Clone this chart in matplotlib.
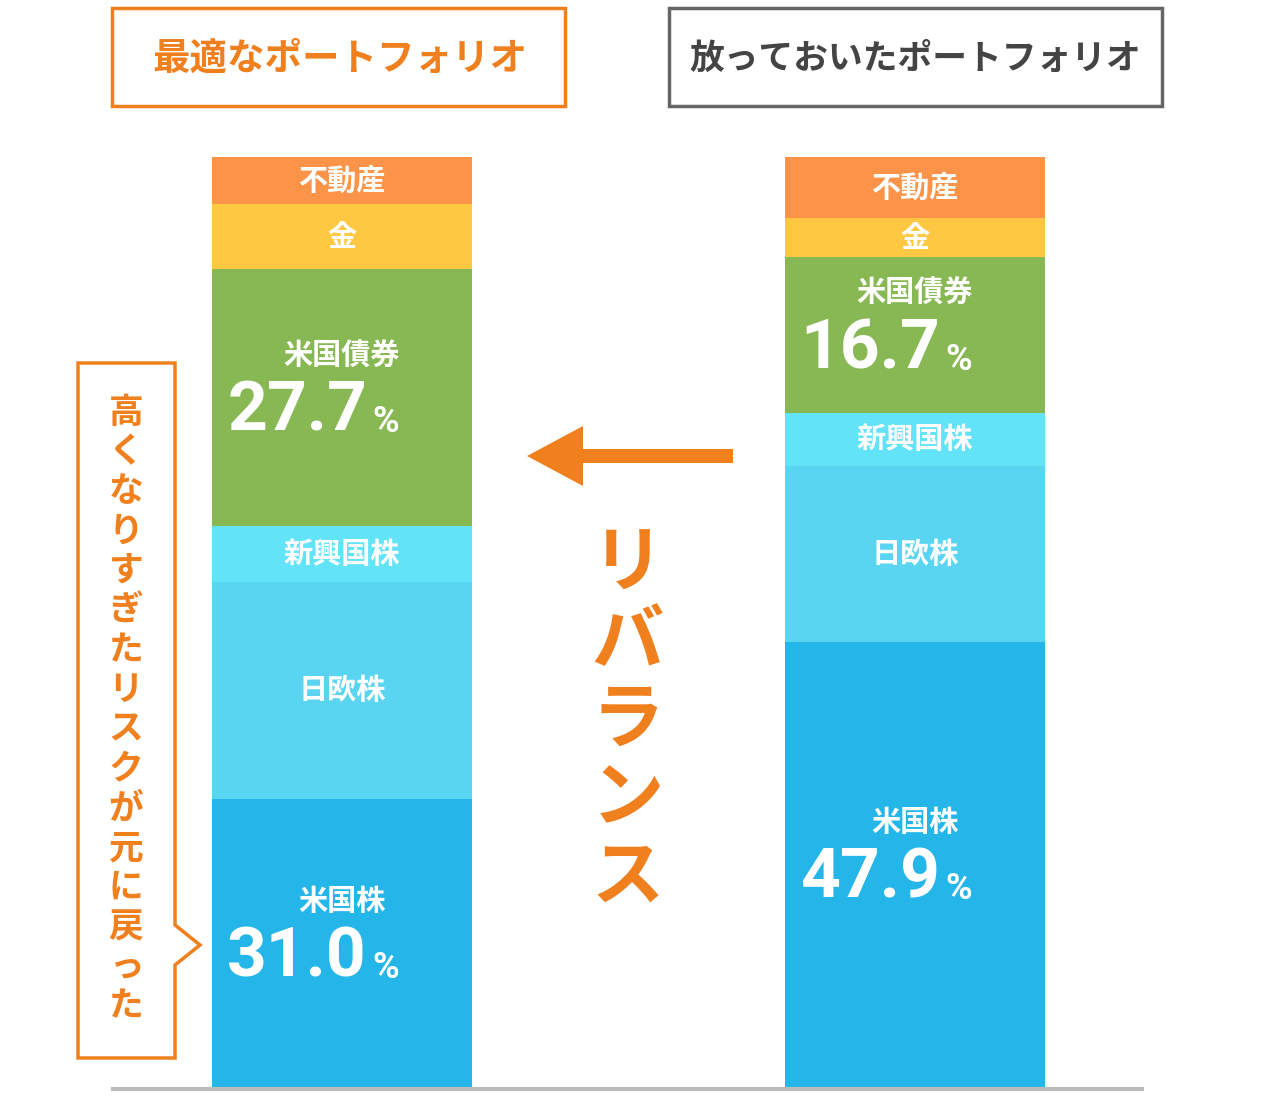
import matplotlib
matplotlib.use("Agg")
import matplotlib.pyplot as plt
from matplotlib.patches import Polygon, Rectangle, FancyArrow

plt.rcParams["font.family"] = "Noto Sans CJK JP"

# ---- data ----
assets = ["米国株", "日欧株", "新興国株", "米国債券", "金", "不動産"]
optimal = [31.0, 23.3, 6.0, 27.7, 6.9, 5.1]
neglected = [47.9, 18.9, 5.7, 16.7, 4.2, 6.6]
show_pct = ["米国株", "米国債券"]
colors = ["#25b6e9", "#5ad5f1", "#63e3f8", "#88b854", "#fec843", "#fb9449"]
titles = ["最適なポートフォリオ", "放っておいたポートフォリオ"]
ORANGE = "#f07f1e"
GRAY = "#666666"

fig = plt.figure(figsize=(12.8, 10.98), dpi=100)
ax = fig.add_axes([0, 0, 1, 1])
ax.set_xlim(0, 1280)
ax.set_ylim(1098, 0)
ax.axis("off")

BASE = 1087
SCALE = 930 / 100.0
BAR_W = 260

def draw_bar(xc, values):
    cum = 0
    for name, v, c in zip(assets, values, colors):
        bottom = BASE - cum * SCALE
        ax.bar(xc, -v * SCALE, bottom=bottom, width=BAR_W, color=c, edgecolor="none")
        mid = bottom - v * SCALE / 2
        if name in show_pct:
            ax.text(xc, mid - 42, name, ha="center", va="center", color="white",
                    fontsize=21, fontweight="bold")
            ax.text(xc + 25, mid + 15, f"{v:.1f}", ha="right", va="center", color="white",
                    fontsize=50, fontweight="bold", fontfamily="Roboto")
            ax.text(xc + 30, mid + 25, "%", ha="left", va="center", color="white",
                    fontsize=26, fontweight="bold", fontfamily="Roboto")
        else:
            ax.text(xc, mid, name, ha="center", va="center", color="white",
                    fontsize=21, fontweight="bold")
        cum += v

draw_bar(342, optimal)
draw_bar(915, neglected)

ax.plot([113, 1142], [1089, 1089], color="#bbbbbb", lw=3)

# title boxes
ax.add_patch(Rectangle((112, 8), 453, 98, fill=False, ec=ORANGE, lw=2.5))
ax.text(340, 58, titles[0], ha="center", va="center", color=ORANGE, fontsize=27, fontweight="bold")
ax.add_patch(Rectangle((669, 8), 493, 98, fill=False, ec=GRAY, lw=2.5))
ax.text(915, 58, titles[1], ha="center", va="center", color="#444444", fontsize=25, fontweight="bold")

# arrow
ax.add_patch(FancyArrow(733, 456, -150, 0, width=14, head_width=60, head_length=56,
                        length_includes_head=False, color=ORANGE, lw=0))

# vertical text
for i, ch in enumerate("リバランス"):
    ax.text(628, 565 + i * 78, ch, ha="center", va="center", color=ORANGE,
            fontsize=52, fontweight="bold")

# callout
ax.add_patch(Polygon([(78, 363), (175, 363), (175, 925), (200, 945), (175, 965),
                      (175, 1058), (78, 1058)], closed=True, fill=False, ec=ORANGE, lw=2.5))
for i, ch in enumerate("高くなりすぎたリスクが元に戻った"):
    ax.text(126, 412 + i * 39.6, ch, ha="center", va="center", color=ORANGE,
            fontsize=25, fontweight="bold")

fig.savefig("out.png", dpi=100, facecolor="white")
